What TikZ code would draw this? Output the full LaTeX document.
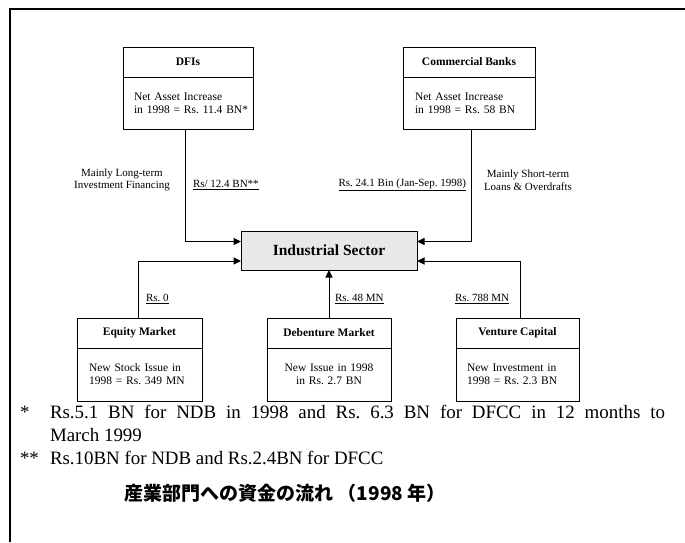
\documentclass[tikz,border=0pt]{standalone}
\usepackage{fontspec}
\setmainfont{Liberation Serif}
\newfontfamily\jpfont{Noto Sans CJK JP}
\usetikzlibrary{arrows.meta}

\definecolor{sectorfill}{RGB}{232,232,232}

\begin{document}
\frenchspacing
\begin{tikzpicture}[x=1pt,y=-1pt,
  every node/.style={inner sep=0pt, outer sep=0pt},
  boxhead/.style={draw, line width=0.9pt, minimum height=30pt,
    font=\fontsize{11.5}{13}\selectfont\bfseries},
  boxbody/.style={draw, line width=0.9pt, minimum height=52pt,
    font=\fontsize{11.5}{13}\selectfont},
  sector/.style={draw, line width=0.9pt, fill=sectorfill,
    minimum width=176pt, minimum height=39pt,
    font=\fontsize{15.5}{17}\selectfont\bfseries},
  flow/.style={line width=1pt, -{Triangle[length=7.5pt,width=7pt]}},
  lbl/.style={font=\fontsize{11}{12.5}\selectfont},
  note/.style={font=\fontsize{18.9}{22}\selectfont, anchor=base west},
]
\useasboundingbox (0,0) rectangle (685,542);

% outer frame (top and left edges)
\draw[line width=2pt] (10,542) -- (10,9) -- (685,9);

% sources above
\node[boxhead, minimum width=130pt] (dfiH) at (188,62) {DFIs};
\node[boxbody, minimum width=130pt, text width=108pt, align=left] (dfiB) at (188,103)
  {\mbox{Net Asset Increase}\\\mbox{in 1998 = Rs. 11.4 BN*}};
\node[boxhead, minimum width=132pt] (cbH) at (469,62) {Commercial Banks};
\node[boxbody, minimum width=132pt, text width=108pt, align=left] (cbB) at (469,103)
  {Net Asset Increase\\in 1998 = Rs. 58 BN};

% central sector
\node[sector] (ind) at (329,250.5) {Industrial Sector};

% sources below
\node[boxhead, minimum width=125pt] (eqH) at (139.5,333) {Equity Market};
\node[boxbody, minimum width=125pt, minimum height=53pt, text width=101pt, align=left] (eqB) at (139.5,374.5)
  {\mbox{New Stock Issue in}\\\mbox{1998 = Rs. 349 MN}};
\node[boxhead, minimum width=124pt] (debH) at (329,333) {Debenture Market};
\node[boxbody, minimum width=124pt, minimum height=53pt, text width=104pt, align=center] (debB) at (329,374.5)
  {New Issue in 1998\\in Rs. 2.7 BN};
\node[boxhead, minimum width=123pt] (vcH) at (517.5,333) {Venture Capital};
\node[boxbody, minimum width=123pt, minimum height=53pt, text width=101pt, align=left] (vcB) at (517.5,374.5)
  {\mbox{New Investment in}\\\mbox{1998 = Rs. 2.3 BN}};

% flows into the sector
\draw[flow] ([xshift=-3pt]dfiB.south) |- ([yshift=9pt]ind.west);
\draw[flow] ([xshift=2pt]cbB.south) |- ([yshift=9pt]ind.east);
\draw[flow] ([xshift=-1.5pt]eqH.north) |- ([yshift=-10.5pt]ind.west);
\draw[flow] (debH.north) -- (ind.south);
\draw[flow] ([xshift=2.5pt]vcH.north) |- ([yshift=-10.5pt]ind.east);

% flow labels
\node[lbl, align=center] (dfiKind) at (122,180) {Mainly Long-term\\Investment Financing};
\node[lbl, anchor=west] (dfiAmt) at (193,185) {\underline{Rs/ 12.4 BN**}};
\node[lbl, anchor=east] (cbAmt) at (466,185) {\underline{Rs. 24.1 Bin (Jan-Sep. 1998)}};
\node[lbl, align=center] (cbKind) at (528,180) {Mainly Short-term\\Loans \& Overdrafts};
\node[lbl, anchor=west] (eqAmt) at (146,299) {\underline{Rs. 0}};
\node[lbl, anchor=west] (debAmt) at (335,299) {\underline{Rs. 48 MN}};
\node[lbl, anchor=west] (vcAmt) at (455,299) {\underline{Rs. 788 MN}};

% footnotes
\node[note] (n1mark) at (20,418) {*};
\node[note] (n1a) at (50,418) {\makebox[615pt][s]{Rs.5.1 BN for NDB in 1998 and Rs. 6.3 BN for DFCC in 12 months to}};
\node[note] (n1b) at (50,441) {March 1999};
\node[note] (n2mark) at (20,464) {**};
\node[note] (n2) at (50,464) {Rs.10BN for NDB and Rs.2.4BN for DFCC};

% title
\node[font=\jpfont\bfseries\fontsize{19}{21}\selectfont] (title) at (285,493)
  {産業部門への資金の流れ （1998 年）};
\end{tikzpicture}
\end{document}
